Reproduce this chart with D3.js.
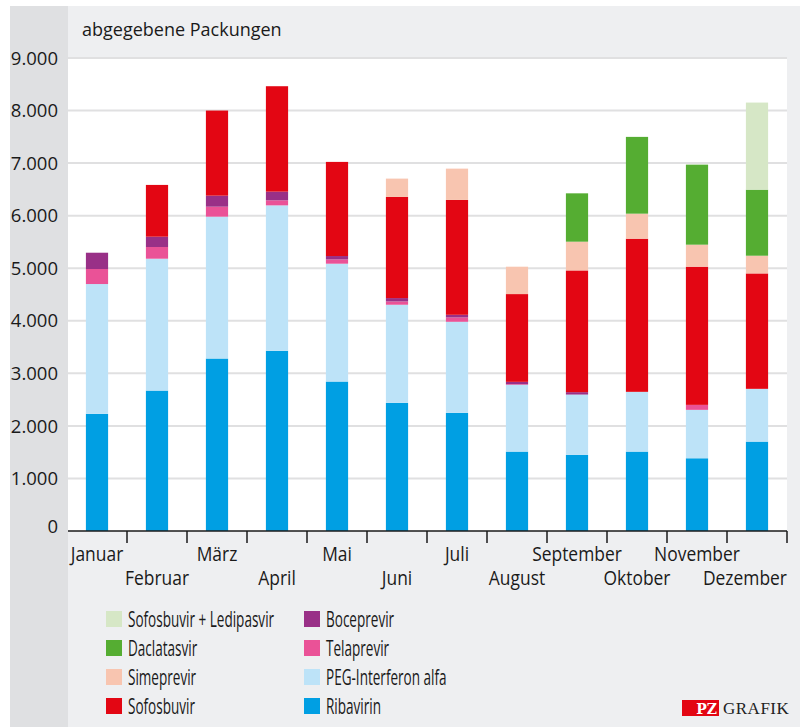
<!DOCTYPE html>
<html>
<head>
<meta charset="utf-8">
<script src="https://cdn.jsdelivr.net/npm/d3@7"></script>
<style>
  body { margin: 0; background: #fff; }
  svg { display: block; }
  text { font-family: "Open Sans", sans-serif; fill: #1a1a1a; }
</style>
</head>
<body>
<script>
// months (x categories)
var months = ["Januar", "Februar", "März", "April", "Mai", "Juni", "Juli",
    "August", "September", "Oktober", "November", "Dezember"];

// series, bottom to top
var seriesNames = ["Ribavirin", "PEG-Interferon alfa", "Telaprevir", "Boceprevir",
    "Sofosbuvir", "Simeprevir", "Daclatasvir", "Sofosbuvir + Ledipasvir"];

var ribavirin   = [2229, 2672, 3282, 3429, 2844, 2438, 2248, 1511, 1448, 1511, 1384, 1701];
var pegInterferon = [2470, 2509, 2699, 2767, 2242, 1867, 1733, 1270, 1148, 1137, 921, 1004];
var telaprevir  = [286, 223, 190, 96, 82, 63, 82, 12, 0, 0, 95, 0];
var boceprevir  = [310, 196, 210, 165, 64, 64, 51, 45, 46, 0, 0, 0];
var sofosbuvir  = [0, 985, 1619, 2006, 1791, 1924, 2185, 1670, 2316, 2914, 2629, 2196];
var simeprevir  = [0, 0, 0, 0, 0, 349, 596, 521, 547, 476, 419, 337];
var daclatasvir = [0, 0, 0, 0, 0, 0, 0, 0, 920, 1461, 1523, 1257];
var sofLedipasvir = [0, 0, 0, 0, 0, 0, 0, 0, 0, 0, 0, 1657];

var seriesValues = [ribavirin, pegInterferon, telaprevir, boceprevir,
    sofosbuvir, simeprevir, daclatasvir, sofLedipasvir];

var seriesColors = ["#009fe3", "#bde3f8", "#ea5297", "#993087",
    "#e30613", "#f8c5b0", "#55ad32", "#d6e7c6"];

// legend layout: two columns
var legendCol1 = ["Sofosbuvir + Ledipasvir", "Daclatasvir", "Simeprevir", "Sofosbuvir"];
var legendCol2 = ["Boceprevir", "Telaprevir", "PEG-Interferon alfa", "Ribavirin"];

var yTicks = [0, 1000, 2000, 3000, 4000, 5000, 6000, 7000, 8000, 9000];

var width = 800, height = 727;
var plotLeft = 67, plotRight = 787, plotTop = 58, plotBottom = 531;
var monthSquash = 0.85, legendSquash = 0.63;

var svg = d3.select("body").append("svg")
    .attr("width", width)
    .attr("height", height);

// backgrounds
svg.append("rect").attr("x", 10).attr("y", 6).attr("width", 790).attr("height", 721)
    .attr("fill", "#eeeff1");
svg.append("rect").attr("x", 10).attr("y", 6).attr("width", 58).attr("height", 721)
    .attr("fill", "#dfe0e2");
svg.append("rect").attr("x", 68).attr("y", plotTop).attr("width", plotRight - 68)
    .attr("height", plotBottom - plotTop).attr("fill", "#fff");

// title
svg.append("text")
    .attr("x", 82).attr("y", 36)
    .style("font-size", "18px")
    .text("abgegebene Packungen");

// scales
var x = d3.scaleBand()
    .domain(months)
    .range([plotLeft, plotRight])
    .paddingInner(0.63)
    .paddingOuter(0.315);

var y = d3.scaleLinear()
    .domain([0, 9000])
    .range([plotBottom, plotTop]);

var de = d3.formatLocale({ decimal: ",", thousands: ".", grouping: [3], currency: ["", " €"] });

// gridlines
svg.append("g")
    .selectAll("line")
    .data(yTicks.slice(1))
    .enter()
    .append("line")
    .attr("x1", 68).attr("x2", plotRight)
    .attr("y1", function(d) { return y(d); })
    .attr("y2", function(d) { return y(d); })
    .attr("stroke", "#e0e0e1")
    .attr("stroke-width", 2);

// y labels
svg.append("g")
    .selectAll("text")
    .data(yTicks)
    .enter()
    .append("text")
    .attr("x", 58)
    .attr("y", function(d) { return y(d) - (d === 0 ? 5 : 0); })
    .attr("dy", "0.36em")
    .attr("text-anchor", "end")
    .style("font-size", "18.5px")
    .text(function(d) { return de.format(",")(d); });

// stacked data
var table = months.map(function(m, i) {
    var row = { month: m };
    seriesNames.forEach(function(s, j) { row[s] = seriesValues[j][i]; });
    return row;
});
var stack = d3.stack().keys(seriesNames)(table);

svg.append("g")
    .selectAll("g")
    .data(stack)
    .enter()
    .append("g")
    .attr("fill", function(d, i) { return seriesColors[i]; })
    .selectAll("rect")
    .data(function(d) { return d.filter(function(p) { return p[1] > p[0]; }); })
    .enter()
    .append("rect")
    .attr("x", function(d) { return x(d.data.month); })
    .attr("width", x.bandwidth())
    .attr("y", function(d) { return y(d[1]); })
    .attr("height", function(d) { return y(d[0]) - y(d[1]); });

// x axis line and ticks between months
svg.append("line")
    .attr("x1", 68).attr("x2", plotRight)
    .attr("y1", plotBottom).attr("y2", plotBottom)
    .attr("stroke", "#1a1a1a").attr("stroke-width", 1.5);

svg.append("g")
    .selectAll("line")
    .data(months)
    .enter()
    .append("line")
    .attr("x1", function(d) { return x(d) + x.bandwidth() / 2 + x.step() / 2; })
    .attr("x2", function(d) { return x(d) + x.bandwidth() / 2 + x.step() / 2; })
    .attr("y1", plotBottom).attr("y2", plotBottom + 12)
    .attr("stroke", "#1a1a1a").attr("stroke-width", 1.5);

// month labels, alternating rows (narrowed to match the condensed face)
var monthLabels = svg.append("g")
    .selectAll("text")
    .data(months)
    .enter()
    .append("text")
    .attr("text-anchor", "middle")
    .style("font-size", "20.5px")
    .text(function(d) { return d; });

monthLabels.each(function(d, i) {
    var w = this.getComputedTextLength() * monthSquash;
    var cx = x(d) + x.bandwidth() / 2;
    // keep last label inside the plot edge
    if (cx + w / 2 > plotRight) cx = plotRight - w / 2;
    var ty = i % 2 === 0 ? 561 : 585;
    d3.select(this).attr("transform", "translate(" + cx + "," + ty + ") scale(" + monthSquash + ",1)");
});

// legend
function drawLegend(names, sx) {
    var g = svg.append("g");
    var item = g.selectAll("g")
        .data(names)
        .enter()
        .append("g")
        .attr("transform", function(d, i) { return "translate(" + sx + "," + (611 + i * 29) + ")"; });
    item.append("rect")
        .attr("width", 16).attr("height", 16)
        .attr("fill", function(d) { return seriesColors[seriesNames.indexOf(d)]; });
    item.append("text")
        .attr("transform", "translate(22,15.5) scale(" + legendSquash + ",1)")
        .style("font-size", "21.5px")
        .text(function(d) { return d; });
}
drawLegend(legendCol1, 106);
drawLegend(legendCol2, 304);

// PZ GRAFIK mark
svg.append("rect").attr("x", 682).attr("y", 700).attr("width", 37).attr("height", 16)
    .attr("fill", "#e30613");
svg.append("text")
    .attr("x", 717).attr("y", 714)
    .attr("text-anchor", "end")
    .style("font-family", "'DejaVu Serif', 'Liberation Serif', serif")
    .style("font-size", "14px")
    .style("font-weight", "bold")
    .style("fill", "#fff")
    .text("PZ");
svg.append("text")
    .attr("x", 723).attr("y", 714)
    .style("font-family", "'Liberation Serif', serif")
    .style("font-size", "17px")
    .style("letter-spacing", "0.5px")
    .style("fill", "#222")
    .text("GRAFIK");
</script>
</body>
</html>
